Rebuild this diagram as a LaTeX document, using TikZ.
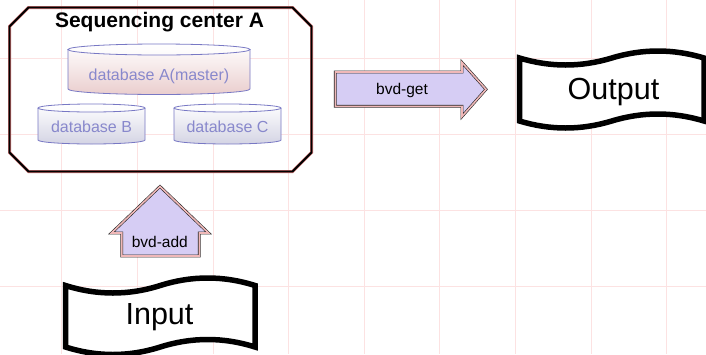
\documentclass[tikz,border=0pt]{standalone}
\usepackage{fontspec}
\setmainfont{Liberation Sans}
\definecolor{gridpink}{RGB}{252,226,226}
\definecolor{frameedge}{RGB}{200,110,110}
\definecolor{dbblue}{RGB}{120,120,196}
\definecolor{dbtextblue}{RGB}{136,136,204}
\definecolor{dbrose}{RGB}{234,206,206}
\definecolor{dbgrey}{RGB}{212,212,228}
\definecolor{arrowfill}{RGB}{214,205,244}
\definecolor{arrowedge}{RGB}{240,184,184}
\tikzset{
  gridline/.style={draw=gridpink,line width=1pt},
  framebox/.style={draw=frameedge,double=black,double distance=1.8pt,line width=0.6pt,line join=miter},
  dbline/.style={draw=dbblue,line width=0.8pt},
  dbtext/.style={text=dbtextblue,font=\fontsize{16}{19}\selectfont,inner sep=0pt},
  flowarrow/.style={fill=arrowfill,draw=black!85,double=arrowedge,double distance=1.6pt,line width=0.6pt,line join=miter},
  arrowtext/.style={text=black,font=\fontsize{15.5}{18}\selectfont,inner sep=0pt},
  tapeline/.style={draw=black,fill=white,line width=5.5pt,line join=miter},
  bigtext/.style={font=\fontsize{30.5}{36}\selectfont,inner sep=0pt},
  titletext/.style={font=\bfseries\fontsize{21}{25}\selectfont,inner sep=0pt}
}
% cylinder: centre x, x radius, top y, bottom y, y radius, shade colour
\newcommand\dbdrum[6]{%
  \path[top color=white,bottom color=#6]
    ({#1-#2},#3) -- ({#1-#2},#4)
    arc[start angle=180,end angle=0,x radius=#2,y radius=#5]
    -- ({#1+#2},#3)
    arc[start angle=0,end angle=-180,x radius=#2,y radius=#5] -- cycle;
  \draw[dbline] ({#1-#2},#3) -- ({#1-#2},#4)
    arc[start angle=180,end angle=0,x radius=#2,y radius=#5]
    -- ({#1+#2},#3);
  \draw[dbline,fill=white,fill opacity=0.6] (#1,#3) ellipse[x radius=#2,y radius=#5];
}
% wavy tape: left x, right x, top y, bottom y, wave amplitude
\newcommand\tapebox[5]{%
  \draw[tapeline] (#1,#3)
    .. controls ({#1+(#2-#1)/6},{#3+4*#5/3}) and ({#1+(#2-#1)/3},{#3+4*#5/3}) .. ({(#1+#2)/2},#3)
    .. controls ({#1+2*(#2-#1)/3},{#3-4*#5/3}) and ({#1+5*(#2-#1)/6},{#3-4*#5/3}) .. (#2,#3)
    -- (#2,#4)
    .. controls ({#1+5*(#2-#1)/6},{#4-4*#5/3}) and ({#1+2*(#2-#1)/3},{#4-4*#5/3}) .. ({(#1+#2)/2},#4)
    .. controls ({#1+(#2-#1)/3},{#4+4*#5/3}) and ({#1+(#2-#1)/6},{#4+4*#5/3}) .. (#1,#4) -- cycle;
}
\begin{document}
\begin{tikzpicture}[x=1pt,y=-1pt]
  \useasboundingbox (0,0) rectangle (706,354);
  \fill[white] (0,0) rectangle (706,354);

  % background grid
  \foreach \k in {0,...,8}
    \draw[gridline] ({61.9+75.6*\k},0) -- ({61.9+75.6*\k},354);
  \foreach \k in {0,...,3}
    \draw[gridline] (0,{58.3+76*\k}) -- (706,{58.3+76*\k});

  % sequencing centre frame
  \draw[framebox] (28.5,7.5) -- (292.5,7.5) -- (311.5,26.5) -- (311.5,152.5)
    -- (292.5,171.5) -- (28.5,171.5) -- (9.5,152.5) -- (9.5,26.5) -- cycle;
  \node[titletext,anchor=base] (title) at (159.5,27.3) {Sequencing center A};

  % databases
  \dbdrum{159}{91}{49.5}{89}{5.5}{dbrose}
  \node[dbtext,anchor=base] (dbA) at (159,80) {database A(master)};
  \dbdrum{91.5}{53.5}{108}{140}{4}{dbgrey}
  \node[dbtext,anchor=base] (dbB) at (91.5,132) {database B};
  \dbdrum{227.5}{53.5}{108}{140}{4}{dbgrey}
  \node[dbtext,anchor=base] (dbC) at (227.5,132) {database C};

  % bvd-get arrow
  \draw[flowarrow] (335.3,72) -- (462,72) -- (462,62.5) -- (486,89.3)
    -- (462,116.5) -- (462,106.3) -- (335.3,106.3) -- cycle;
  \node[arrowtext,anchor=base] (get) at (402,94.3) {bvd-get};

  % bvd-add arrow
  \draw[flowarrow] (121.7,256) -- (121.7,233) -- (111.5,233) -- (160,186.5)
    -- (208.5,233) -- (199.3,233) -- (199.3,256) -- cycle;
  \node[arrowtext,anchor=base] (add) at (159.8,247.3) {bvd-add};

  % output and input tapes
  \tapebox{519.5}{704}{58}{121}{7}
  \node[bigtext,anchor=base] (output) at (613.5,99) {Output};
  \tapebox{65.5}{255}{285.5}{347}{7.5}
  \node[bigtext,anchor=base] (input) at (159.5,324.5) {Input};
\end{tikzpicture}
\end{document}
